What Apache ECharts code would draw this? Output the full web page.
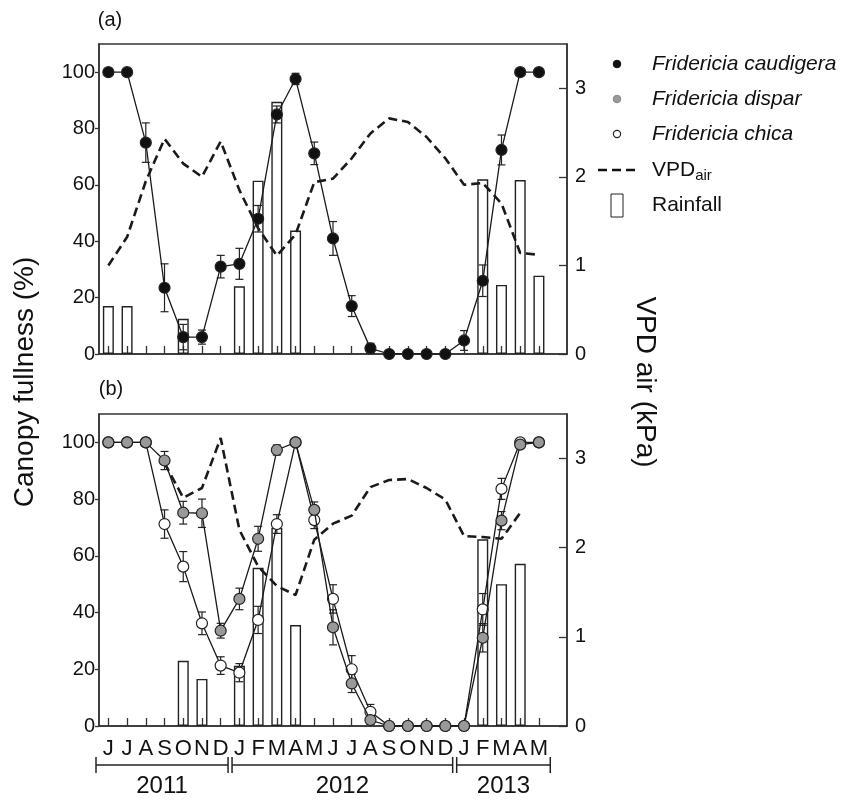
<!DOCTYPE html>
<html><head><meta charset="utf-8">
<script src="https://cdn.jsdelivr.net/npm/echarts@6/dist/echarts.min.js"></script>
<style>html,body{margin:0;padding:0;background:#fff}#c{width:846px;height:800px}</style>
</head><body><div id="c"></div>
<script>
// ---- data ----
const months = ['J','J','A','S','O','N','D','J','F','M','A','M','J','J','A','S','O','N','D','J','F','M','A','M'];
const years = ['2011','2012','2013'];
const leftTicks = [0,20,40,60,80,100];
const rightTicks = [0,1,2,3];

// panel (a)
const caudigera = [100,100,75,23.5,6,6,31,32,48,85,97.6,71.2,41,17,2,0,0,0,0,4.8,26,72.4,100,100];
const caudigeraErr = [0,0,7,8.5,4.5,2.5,4,5.5,4.7,3,2,4,6,3.7,1.8,0,0,0,0,3.5,5.6,5.3,0,0];
const vpdA = [1.0,1.32,1.95,2.43,2.15,2.0,2.40,1.85,1.42,1.11,1.35,1.94,1.98,2.21,2.49,2.66,2.62,2.45,2.21,1.91,1.93,1.70,1.14,1.12];
const rainA = [17,17,null,null,12.5,null,null,24,61.5,89.5,43.8,null,null,null,null,null,null,null,null,null,62,24.5,61.7,27.8];

// panel (b)
const dispar = [100,100,100,93.6,75.2,75,33.6,44.8,66,97.3,100,76.2,34.8,15,2.1,0,0,0,0,0,31.1,72.4,99.2,100];
const disparErr = [0,0,0,3.2,4,5,2.6,3.8,4.4,1.8,0,2.8,6.2,3.2,1.5,0,0,0,0,0,5,3.2,0,0];
const chica = [100,100,100,71.2,56.2,36.2,21.3,18.8,37.4,71.2,100,72.6,44.8,20,5,0,0,0,0,0,41.1,83.6,100,100];
const chicaErr = [0,0,0,5,5.3,4,3.1,3.2,4.8,3.3,0,3,5,4.8,2.6,0,0,0,0,0,5.6,3.7,0,0];
const vpdB = [null,null,null,2.95,2.56,2.67,3.23,2.20,1.79,1.57,1.47,2.09,2.27,2.36,2.68,2.76,2.77,2.67,2.54,2.13,2.12,2.10,2.39,null];
const rainB = [null,null,null,null,23,16.6,null,21.2,55.8,69.9,35.6,null,null,null,null,null,null,null,null,null,65.8,50,57.2,null];

// ---- chart ----
const FONT = '"Liberation Sans", Arial, sans-serif';
const INK = '#1a1a1a';
const cats = months.concat(['']);

function xAxisCfg(gi, showLabels) {
  return {
    type: 'category', gridIndex: gi, data: cats, boundaryGap: true,
    axisLine: {show: true, lineStyle: {color: '#333', width: 1.5}},
    axisTick: {show: true, inside: true, length: 8, alignWithLabel: true,
      interval: (i) => i < months.length, lineStyle: {color: '#333', width: 1.3}},
    axisLabel: {show: showLabels, interval: 0, color: '#111', fontFamily: FONT, fontSize: 22, margin: 12},
    splitLine: {show: false}
  };
}
function yLeft(gi) {
  return {
    type: 'value', gridIndex: gi, min: 0, max: 110, position: 'left',
    axisLine: {show: true, lineStyle: {color: '#333', width: 1.5}},
    axisTick: {show: true, inside: false, length: 4, customValues: leftTicks, lineStyle: {color: '#333', width: 1.3}},
    axisLabel: {color: '#111', fontFamily: FONT, fontSize: 20, margin: 4, customValues: leftTicks,
      formatter: (v) => (v > 100 ? '' : String(v))},
    splitLine: {show: false}
  };
}
function yRight(gi) {
  return {
    type: 'value', gridIndex: gi, min: 0, max: 3.5, position: 'right',
    axisLine: {show: true, lineStyle: {color: '#333', width: 1.5}},
    axisTick: {show: true, inside: true, length: 8, customValues: rightTicks, lineStyle: {color: '#333', width: 1.3}},
    axisLabel: {color: '#111', fontFamily: FONT, fontSize: 20, margin: 8, customValues: rightTicks,
      formatter: (v) => (v > 3 ? '' : String(v))},
    splitLine: {show: false}
  };
}
function errSeries(xi, yi, vals, errs) {
  const data = [];
  vals.forEach((v, i) => { if (v != null && errs[i] > 0) data.push([i, v - errs[i], v + errs[i]]); });
  return {
    type: 'custom', xAxisIndex: xi, yAxisIndex: yi, z: 3, silent: true,
    encode: {x: 0, y: [1, 2]},
    data: data,
    renderItem: (params, api) => {
      const x = api.value(0);
      const lo = api.coord([x, api.value(1)]);
      const hi = api.coord([x, api.value(2)]);
      const w = 4;
      const st = {stroke: '#222', lineWidth: 1.2, fill: null};
      return {type: 'group', children: [
        {type: 'line', shape: {x1: lo[0], y1: lo[1], x2: hi[0], y2: hi[1]}, style: st},
        {type: 'line', shape: {x1: lo[0] - w, y1: lo[1], x2: lo[0] + w, y2: lo[1]}, style: st},
        {type: 'line', shape: {x1: hi[0] - w, y1: hi[1], x2: hi[0] + w, y2: hi[1]}, style: st}
      ]};
    }
  };
}
function lineSeries(xi, yi, vals, fill, z) {
  return {
    type: 'line', xAxisIndex: xi, yAxisIndex: yi, data: vals, z: z,
    symbol: 'circle', symbolSize: 11, showSymbol: true,
    lineStyle: {color: INK, width: 1.3},
    itemStyle: {color: fill, borderColor: '#222', borderWidth: 1.2},
    animation: false
  };
}
function vpdSeries(xi, yi, vals) {
  return {
    type: 'line', xAxisIndex: xi, yAxisIndex: yi, data: vals, z: 2,
    symbol: 'none', connectNulls: false,
    lineStyle: {color: INK, width: 2.6, type: [9, 5]},
    animation: false
  };
}
function rainSeries(xi, yi, vals) {
  return {
    type: 'bar', xAxisIndex: xi, yAxisIndex: yi, data: vals, barWidth: 11, z: 1,
    itemStyle: {color: 'rgba(0,0,0,0)', borderColor: '#222', borderWidth: 1.4},
    animation: false
  };
}

const chart = echarts.init(document.getElementById('c'), null, {renderer: 'canvas'});
chart.setOption({
  animation: false,
  backgroundColor: '#fff',
  textStyle: {fontFamily: FONT},
  grid: [
    {left: 99, top: 44, width: 468, height: 310, show: true, borderColor: '#333', borderWidth: 1.5, backgroundColor: 'transparent'},
    {left: 99, top: 414, width: 468, height: 312, show: true, borderColor: '#333', borderWidth: 1.5, backgroundColor: 'transparent'}
  ],
  xAxis: [xAxisCfg(0, false), xAxisCfg(1, true)],
  yAxis: [yLeft(0), yRight(0), yLeft(1), yRight(1)],
  series: [
    rainSeries(0, 0, rainA),
    vpdSeries(0, 1, vpdA),
    errSeries(0, 0, caudigera, caudigeraErr),
    lineSeries(0, 0, caudigera, '#111', 5),
    rainSeries(1, 2, rainB),
    vpdSeries(1, 3, vpdB),
    errSeries(1, 2, chica, chicaErr),
    errSeries(1, 2, dispar, disparErr),
    lineSeries(1, 2, chica, '#fff', 5),
    lineSeries(1, 2, dispar, '#999', 6)
  ]
});

// ---- annotations (labels, year brackets, legend) ----
function px(gi, idx) { return chart.convertToPixel({xAxisIndex: gi}, idx); }
const band = 468 / cats.length;
const yBr = 765;
const yearSpans = [[0, 6], [7, 18], [19, 23]];
const g = [];
yearSpans.forEach((s, k) => {
  const x0 = px(1, s[0]) - band / 2 + (k === 0 ? -3 : 2);
  const x1 = px(1, s[1]) + band / 2 - (k === 2 ? -2 : 2);
  const st = {stroke: '#222', lineWidth: 1.5};
  g.push({type: 'line', shape: {x1: x0, y1: yBr, x2: x1, y2: yBr}, style: st});
  g.push({type: 'line', shape: {x1: x0, y1: yBr - 8, x2: x0, y2: yBr + 8}, style: st});
  g.push({type: 'line', shape: {x1: x1, y1: yBr - 8, x2: x1, y2: yBr + 8}, style: st});
  g.push({type: 'text', x: (x0 + x1) / 2, y: 786, style: {text: years[k], font: '24px ' + FONT, fill: '#111', align: 'center', verticalAlign: 'middle'}});
});
g.push({type: 'text', x: 110, y: 20, style: {text: '(a)', font: '20px ' + FONT, fill: '#111', align: 'center', verticalAlign: 'middle'}});
g.push({type: 'text', x: 111, y: 389, style: {text: '(b)', font: '20px ' + FONT, fill: '#111', align: 'center', verticalAlign: 'middle'}});
g.push({type: 'text', x: 25, y: 382, rotation: Math.PI / 2,
  style: {text: 'Canopy fullness (%)', font: '28px ' + FONT, fill: '#111', align: 'center', verticalAlign: 'middle'}});
g.push({type: 'text', x: 645, y: 382, rotation: -Math.PI / 2,
  style: {text: 'VPD air (kPa)', font: '28px ' + FONT, fill: '#111', align: 'center', verticalAlign: 'middle'}});

// legend
const lx = 617, tx = 652;
const rows = [64, 99, 134, 170, 205];
g.push({type: 'circle', shape: {cx: lx, cy: rows[0], r: 3.8}, style: {fill: '#111', stroke: '#111', lineWidth: 1}});
g.push({type: 'circle', shape: {cx: lx, cy: rows[1], r: 3.8}, style: {fill: '#999', stroke: '#888', lineWidth: 1}});
g.push({type: 'circle', shape: {cx: lx, cy: rows[2], r: 3.6}, style: {fill: '#fff', stroke: '#222', lineWidth: 1.2}});
g.push({type: 'line', shape: {x1: 598, y1: rows[3], x2: 636, y2: rows[3]}, style: {stroke: '#111', lineWidth: 2.6, lineDash: [9, 5]}});
g.push({type: 'rect', shape: {x: 611, y: 194, width: 12, height: 23}, style: {fill: 'none', stroke: '#222', lineWidth: 1}});
const names = ['Fridericia caudigera', 'Fridericia dispar', 'Fridericia chica'];
names.forEach((n, i) => g.push({type: 'text', x: tx, y: rows[i], style: {text: n, font: 'italic 21px ' + FONT, fill: '#111', verticalAlign: 'middle'}}));
g.push({type: 'text', x: tx, y: rows[3], style: {
  text: '{m|VPD}{s|air}', verticalAlign: 'middle', fill: '#111',
  rich: {m: {fontSize: 21, fontFamily: FONT, fill: '#111', verticalAlign: 'middle'},
         s: {fontSize: 15, fontFamily: FONT, fill: '#111', padding: [12, 0, 0, 0], verticalAlign: 'bottom'}}}});
g.push({type: 'text', x: tx, y: rows[4], style: {text: 'Rainfall', font: '21px ' + FONT, fill: '#111', verticalAlign: 'middle'}});
chart.setOption({graphic: {elements: g}});
</script></body></html>
